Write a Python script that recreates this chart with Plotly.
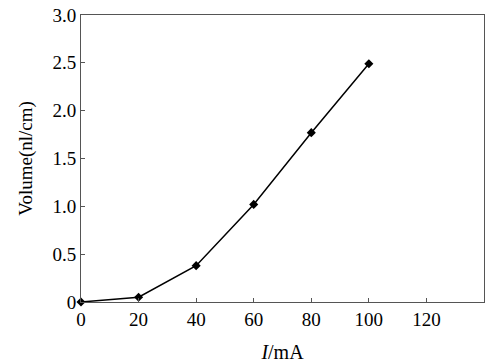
import plotly.graph_objects as go

current_mA = [0, 20, 40, 60, 80, 100]
volume = [0.0, 0.05, 0.38, 1.02, 1.77, 2.49]
x_ticks = [0, 20, 40, 60, 80, 100, 120]
y_ticks = [0, 0.5, 1.0, 1.5, 2.0, 2.5, 3.0]
y_ticktext = ["0", "0.5", "1.0", "1.5", "2.0", "2.5", "3.0"]

font = "Liberation Serif, Times New Roman, serif"

fig = go.Figure()
fig.add_trace(go.Scatter(
    x=current_mA, y=volume, mode="lines+markers",
    line=dict(color="black", width=1.5),
    marker=dict(symbol="diamond", size=7, color="black"),
    cliponaxis=False, showlegend=False,
))

fig.update_layout(
    width=490, height=364,
    margin=dict(l=81, r=6, t=15, b=62),
    paper_bgcolor="white", plot_bgcolor="white",
    font=dict(family=font, size=19, color="black"),
)
fig.update_xaxes(
    range=[0, 140], tickvals=x_ticks, ticks="inside", ticklen=4,
    tickcolor="#555", showline=True, linecolor="#555", linewidth=1,
    mirror=True, showgrid=False, zeroline=False, automargin=False,
    tickfont=dict(size=19),
    title=dict(text="<i>I</i>/mA", font=dict(size=20), standoff=16),
)
fig.update_yaxes(
    range=[0, 3.0], tickvals=y_ticks, ticktext=y_ticktext, ticks="inside",
    ticklen=4, tickcolor="#555", showline=True, linecolor="#555", linewidth=1,
    mirror=True, showgrid=False, zeroline=False, automargin=False,
    tickfont=dict(size=19),
    title=dict(text="Volume(nl/cm)", font=dict(size=19), standoff=14),
)

fig.write_html(
    "out.html",
    config={"displayModeBar": False},
    post_script="document.body.style.margin='0';document.body.style.overflow='hidden';",
)
